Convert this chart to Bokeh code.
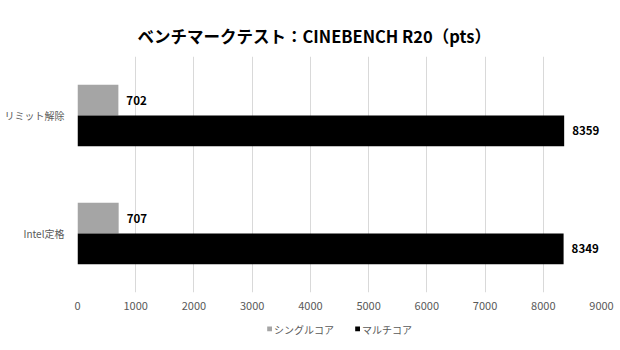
from bokeh.plotting import figure
from bokeh.models import ColumnDataSource, Legend, LegendItem, Range1d
from bokeh.layouts import column
from bokeh.transform import dodge
from bokeh.core.properties import value
from bokeh.embed import file_html
from bokeh.resources import INLINE

categories = ["Intel定格", "リミット解除"]
single_core = [707, 702]
multi_core = [8349, 8359]
series_names = ["シングルコア", "マルチコア"]
series_colors = ["#a5a5a5", "#000000"]
title_text = "ベンチマークテスト：CINEBENCH R20（pts）"

FONT = "Noto Sans CJK JP"

src = ColumnDataSource(dict(
    cat=categories,
    single=single_core,
    multi=multi_core,
    single_lbl=[str(v) for v in single_core],
    multi_lbl=[str(v) for v in multi_core],
))

p = figure(frame_width=524, frame_height=236, y_range=categories, x_range=(0, 9000),
           output_backend="svg", toolbar_location=None,
           min_border_left=77, min_border_right=19, min_border_top=56,
           min_border_bottom=0)

p.title.text = title_text
p.title.align = "left"
p.title.offset = 60
p.title.vertical_align = "top"
p.title.text_font = FONT
p.title.text_font_size = "16.5px"
p.title.text_font_style = "bold"
p.title.text_color = "#000000"
p.title.standoff = 13

p.outline_line_color = None
p.background_fill_color = "white"
p.border_fill_color = "white"

p.hbar(y=dodge("cat", 0.13, range=p.y_range), right="single", left=0,
       height=0.26, source=src, fill_color=series_colors[0], line_color=None)
p.hbar(y=dodge("cat", -0.13, range=p.y_range), right="multi", left=0,
       height=0.26, source=src, fill_color=series_colors[1], line_color=None)

p.text(x="single", y=dodge("cat", 0.13, range=p.y_range), text="single_lbl",
       source=src, x_offset=8, text_baseline="middle", text_align="left",
       text_font=value(FONT), text_font_size="11.5px", text_font_style="bold",
       text_color="#000000")
p.text(x="multi", y=dodge("cat", -0.13, range=p.y_range), text="multi_lbl",
       source=src, x_offset=8, text_baseline="middle", text_align="left",
       text_font=value(FONT), text_font_size="11.5px", text_font_style="bold",
       text_color="#000000")

p.xaxis.ticker = list(range(0, 9001, 1000))
p.xaxis.axis_line_color = None
p.xaxis.major_tick_line_color = None
p.xaxis.minor_tick_line_color = None
p.xaxis.major_tick_out = 0
p.xaxis.major_tick_in = 0
p.xaxis.minor_tick_out = 0
p.xaxis.major_label_text_font = FONT
p.xaxis.major_label_text_font_size = "11px"
p.xaxis.major_label_text_color = "#595959"
p.xaxis.major_label_standoff = 9

p.yaxis.axis_line_color = None
p.yaxis.major_tick_line_color = None
p.yaxis.minor_tick_line_color = None
p.yaxis.major_tick_out = 0
p.yaxis.major_tick_in = 0
p.yaxis.major_label_text_font = FONT
p.yaxis.major_label_text_font_size = "10px"
p.yaxis.major_label_text_color = "#595959"
p.yaxis.major_label_standoff = 13

p.xgrid.grid_line_color = "#d9d9d9"
p.ygrid.grid_line_color = None

# legend strip below the chart
lp = figure(width=620, height=33, x_range=Range1d(0, 1), y_range=Range1d(0, 1),
            x_axis_type=None, y_axis_type=None, output_backend="svg",
            toolbar_location=None, min_border=0)
lp.outline_line_color = None
lp.xgrid.visible = False
lp.ygrid.visible = False
lr1 = lp.hbar(y=[-5], left=[0], right=[single_core[0]], height=0.1,
              fill_color=series_colors[0], line_color=None)
lr2 = lp.hbar(y=[-5], left=[0], right=[multi_core[0]], height=0.1,
              fill_color=series_colors[1], line_color=None)
legend = Legend(items=[LegendItem(label=series_names[0], renderers=[lr1]),
                       LegendItem(label=series_names[1], renderers=[lr2])],
                orientation="horizontal", location="center",
                label_text_font=FONT, label_text_font_size="10px",
                label_text_color="#595959", glyph_width=6, glyph_height=6,
                label_standoff=2, spacing=20, padding=0, margin=0,
                border_line_color=None, background_fill_alpha=0)
lp.add_layout(legend, "center")

layout = column(p, lp, spacing=0)
open("out.html", "w").write(file_html(layout, INLINE))
